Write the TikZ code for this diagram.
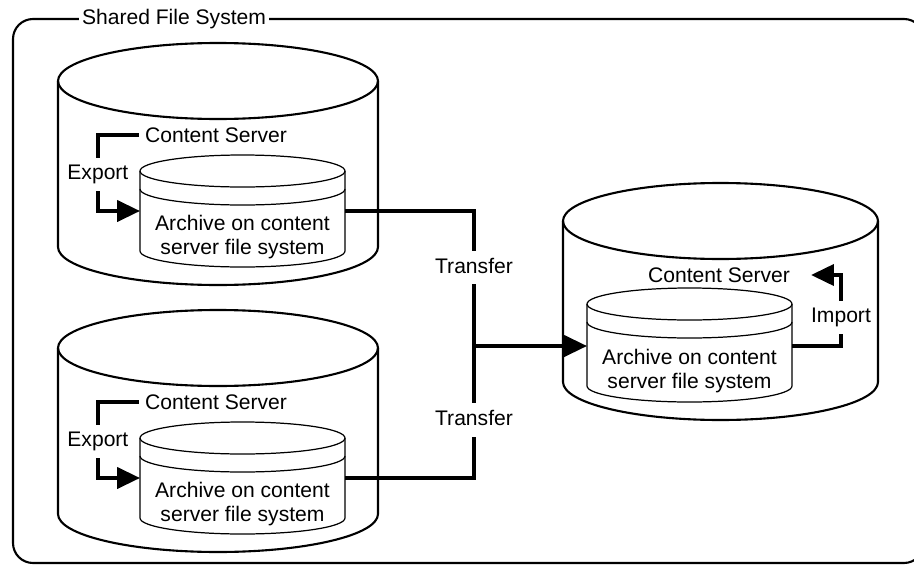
\documentclass[tikz,border=0pt]{standalone}
\usepackage{fontspec}
\setmainfont{Liberation Sans}
\usepackage{tikz}
\usetikzlibrary{arrows.meta,calc,positioning}

% cylinder: centre x, top centre y, bottom centre y, x radius, y radius
\newcommand{\drum}[6][drumline]{%
  \draw[#1] (#2-#5,#3) -- (#2-#5,#4) arc[start angle=180,end angle=0,x radius=#5,y radius=#6] -- (#2+#5,#3);
  \draw[#1] (#2,#3) ellipse[x radius=#5,y radius=#6];}
\newcommand{\disk}[5]{%
  \drum[diskline]{#1}{#2}{#3}{#4}{#5}
  \draw[diskline] (#1-#4,#2+18) arc[start angle=180,end angle=0,x radius=#4,y radius=#5];}

\begin{document}
\begin{tikzpicture}[x=0.02cm,y=-0.02cm,>={Triangle[length=13pt,width=12pt]},
  font=\fontsize{12}{13.6}\selectfont,
  drumline/.style={line width=1.2pt},
  diskline/.style={line width=0.7pt},
  flow/.style={line width=2pt},
  lbl/.style={fill=white,text height=8.6pt,text depth=2.5pt,inner ysep=4pt,inner xsep=1pt}]
  \useasboundingbox (0,0) rectangle (914,565);
  \clip (0,0) rectangle (914,565);
  \draw[drumline,rounded corners=0.4cm] (13,19) rectangle (924,563);
  \node[fill=white,inner xsep=2pt,inner ysep=1pt] (title) at (174,19) {Shared File System};

  % servers
  \drum{218}{81}{247}{160}{38}
  \drum{218}{348}{514}{160}{38}
  \drum{720.5}{221}{382}{157.5}{38}
  % archives
  \disk{242.5}{171}{251}{102.5}{16}
  \disk{242.5}{438}{518}{102.5}{16}
  \disk{689.5}{304}{386}{102.5}{16}

  \node (srv1) at (216,135) {Content Server};
  \node (srv2) at (216,402) {Content Server};
  \node (srv3) at (719,275) {Content Server};
  \node[align=center] (arch1) at (242.5,237) {Archive on content\\server file system};
  \node[align=center] (arch2) at (242.5,504) {Archive on content\\server file system};
  \node[align=center] (arch3) at (689.5,371) {Archive on content\\server file system};
  \coordinate (arch1in) at (140,211);
  \coordinate (arch1out) at (345,211);
  \coordinate (arch2in) at (140,478);
  \coordinate (arch2out) at (345,478);
  \coordinate (arch3in) at (587,346);
  \coordinate (arch3out) at (792,346);
  \coordinate (join) at (474,346);

  \draw[flow,->] (srv1.west) -- ++(-41,0) |- node[lbl,pos=0.26] (exp1) {Export} (arch1in);
  \draw[flow,->] (srv2.west) -- ++(-41,0) |- node[lbl,pos=0.26] (exp2) {Export} (arch2in);
  \draw[flow,->] (arch1out) -| node[lbl,pos=0.71] (xfer1) {Transfer} (join) -- (arch3in);
  \draw[flow] (arch2out) -| node[lbl,pos=0.72] (xfer2) {Transfer} (join);
  \draw[flow,->] (arch3out) -- ++(49,0) |- node[lbl,pos=0.2] (imp) {Import} ($(srv3.east)+(15,0)$);
\end{tikzpicture}
\end{document}
